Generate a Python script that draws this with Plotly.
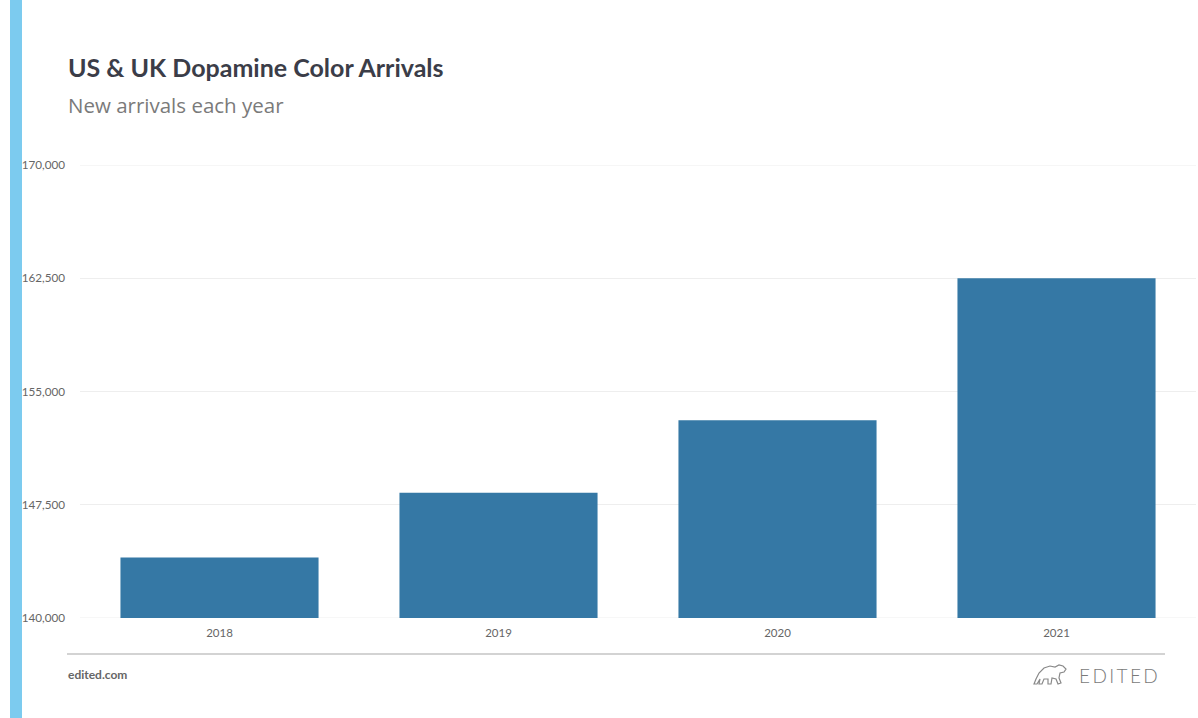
import plotly.graph_objects as go

# Yearly new-arrival counts
years = ["2018", "2019", "2020", "2021"]
arrivals = [144000, 148300, 153100, 162500]
y_ticks = [140000, 147500, 155000, 162500, 170000]
y_tick_labels = ["140,000", "147,500", "155,000", "162,500", "170,000"]

W, H = 1198, 718
PLOT_L, PLOT_R, PLOT_T, PLOT_B = 80, 1196, 165, 618


def px(x):
    return (x - PLOT_L) / (PLOT_R - PLOT_L)


def py(y):
    return (PLOT_B - y) / (PLOT_B - PLOT_T)


fig = go.Figure(
    go.Bar(
        x=years,
        y=arrivals,
        base=0,
        marker=dict(color="#3578a5", line=dict(width=0)),
        hoverinfo="x+y",
    )
)

fig.update_layout(
    width=W,
    height=H,
    margin=dict(l=PLOT_L, r=W - PLOT_R, t=PLOT_T, b=H - PLOT_B),
    paper_bgcolor="white",
    plot_bgcolor="white",
    bargap=0.29,
    showlegend=False,
    font=dict(family="Lato, sans-serif", color="#666666"),
    xaxis=dict(
        showgrid=False,
        showline=False,
        ticks="",
        tickfont=dict(size=11.5, color="#666666"),
        ticklabelstandoff=6,
    ),
    yaxis=dict(
        range=[140000, 170000],
        tickvals=y_ticks,
        ticktext=y_tick_labels,
        showgrid=True,
        gridcolor="#eeeeee",
        gridwidth=1,
        zeroline=False,
        showline=False,
        ticks="",
        tickfont=dict(size=11.7, color="#666666"),
        ticklabelstandoff=14,
    ),
)

shapes = []
# Gridlines at both ends of the value range
for v in (y_ticks[0], y_ticks[-1]):
    shapes.append(dict(type="line", xref="paper", yref="y",
                       x0=0, x1=1, y0=v, y1=v,
                       line=dict(color="#eeeeee", width=1), layer="below"))
# Accent bar down the left edge
shapes.append(dict(type="rect", xref="paper", yref="paper",
                   x0=px(10), x1=px(22), y0=py(H), y1=py(0),
                   fillcolor="#7ccbef", line=dict(width=0), layer="above"))
# Footer rule
shapes.append(dict(type="line", xref="paper", yref="paper",
                   x0=px(67), x1=px(1165), y0=py(654), y1=py(654),
                   line=dict(color="#c4c4c4", width=1.5)))

# Small bear mark beside the wordmark
bear_pts = [
    (1034, 684), (1036, 679), (1039, 673), (1044, 668), (1050, 666),
    (1055, 667), (1059, 665), (1063, 666), (1066, 669), (1064, 672),
    (1060, 673), (1059, 678), (1061, 683), (1058, 684), (1056, 679),
    (1052, 678), (1051, 684), (1048, 684), (1048, 679), (1044, 679),
    (1042, 684), (1039, 684), (1040, 679), (1037, 684), (1034, 684),
]
path = "M " + " L ".join(f"{px(x):.5f},{py(y):.5f}" for x, y in bear_pts) + " Z"
shapes.append(dict(type="path", xref="paper", yref="paper", path=path,
                   line=dict(color="#8a8a8a", width=1.2), fillcolor="rgba(0,0,0,0)"))
fig.update_layout(shapes=shapes)

annotations = [
    dict(text="<b>US &amp; UK Dopamine Color Arrivals</b>", x=px(66), y=py(67),
         xanchor="left", yanchor="middle",
         font=dict(size=25, color="#3b3d48", family="Lato, sans-serif")),
    dict(text="New arrivals each year", x=px(66), y=py(105),
         xanchor="left", yanchor="middle",
         font=dict(size=20.5, color="#7a7a7a", family="Open Sans, sans-serif")),
    dict(text="<b>edited.com</b>", x=px(66), y=py(674),
         xanchor="left", yanchor="middle",
         font=dict(size=12, color="#666666", family="Lato, sans-serif")),
    dict(text="E\u2009D\u2009I\u2009T\u2009E\u2009D", x=px(1160), y=py(675),
         xanchor="right", yanchor="middle",
         font=dict(size=19, color="#7a7a7a", family="Lato Light, Lato, sans-serif")),
]
for a in annotations:
    a.update(xref="paper", yref="paper", showarrow=False)
fig.update_layout(annotations=annotations)

fig.write_html("out.html")
